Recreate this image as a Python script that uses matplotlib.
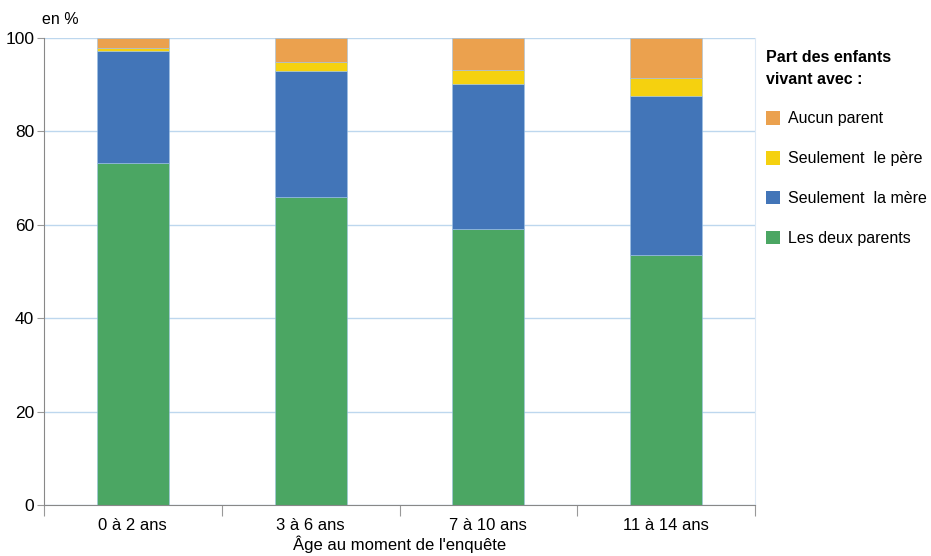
# stacked bars: part des enfants vivant avec leurs parents, par âge

import numpy as np
import matplotlib.pyplot as plt

plt.rcParams['font.family'] = ['Liberation Sans', 'DejaVu Sans']

ages = ['0 à 2 ans', '3 à 6 ans', '7 à 10 ans', '11 à 14 ans']
deux_parents = [73.2, 65.9, 59.0, 53.5]
seule_mere = [24.1, 27.1, 31.1, 34.1]
seul_pere = [0.6, 1.9, 3.0, 3.8]
aucun = [2.1, 5.1, 6.9, 8.6]
y_ticks = [0, 20, 40, 60, 80, 100]

series = [
    ('Les deux parents', deux_parents, '#4ba663'),
    ('Seulement  la mère', seule_mere, '#4275b8'),
    ('Seulement  le père', seul_pere, '#f5d10f'),
    ('Aucun parent', aucun, '#eba14e'),
]

fig = plt.figure(figsize=(9.31, 5.56), dpi=100)
ax = fig.add_axes([44 / 931, 1 - 505 / 556, (755 - 44) / 931, (505 - 38) / 556])

x = np.arange(len(ages))
bottom = np.zeros(len(ages))
handles = []
for label, vals, color in series:
    b = ax.bar(x, vals, 0.405, bottom=bottom, color=color, label=label,
               edgecolor='#9dc3e6', linewidth=0.4, zorder=2)
    handles.append(b)
    bottom += np.array(vals)

ax.set_ylim(0, 100)
ax.set_xlim(-0.5, len(ages) - 0.5)
ax.set_yticks(y_ticks)
ax.tick_params(axis='y', labelsize=12.5, length=5, color='#999999', pad=2)
ax.yaxis.grid(True, color='#bdd7ee', linewidth=1, zorder=0)
ax.set_axisbelow(True)

# boundaries as major ticks, labels on minor ticks
ax.set_xticks(np.arange(-0.5, len(ages), 1.0))
ax.set_xticklabels([])
ax.set_xticks(x, minor=True)
ax.set_xticklabels(ages, minor=True)
ax.tick_params(axis='x', which='major', length=8, color='#999999')
ax.tick_params(axis='x', which='minor', length=0, labelsize=12, pad=9)

ax.spines['top'].set_visible(False)
ax.spines['right'].set_color('#dde9f5')
ax.spines['left'].set_color('#888888')
ax.spines['bottom'].set_color('#888888')

ax.set_xlabel("Âge au moment de l'enquête", fontsize=12, labelpad=2)
fig.text(42 / 931, 1 - 20 / 556, 'en %', fontsize=11.5, va='center')

leg = fig.legend(handles[::-1], [h.get_label() for h in handles[::-1]],
                 loc='upper left', bbox_to_anchor=(766 / 931, 1 - 50 / 556),
                 frameon=False, fontsize=11.5, handlelength=0.9, handleheight=0.9,
                 labelspacing=1.55, handletextpad=0.45, borderpad=0,
                 borderaxespad=0,
                 title='Part des enfants\nvivant avec :',
                 title_fontproperties={'weight': 'bold', 'size': 11.5},
                 alignment='left')
leg.get_title().set_linespacing(1.55)
for h in leg.legend_handles:
    h.set_edgecolor('none')

plt.savefig('out.png', dpi=100)
